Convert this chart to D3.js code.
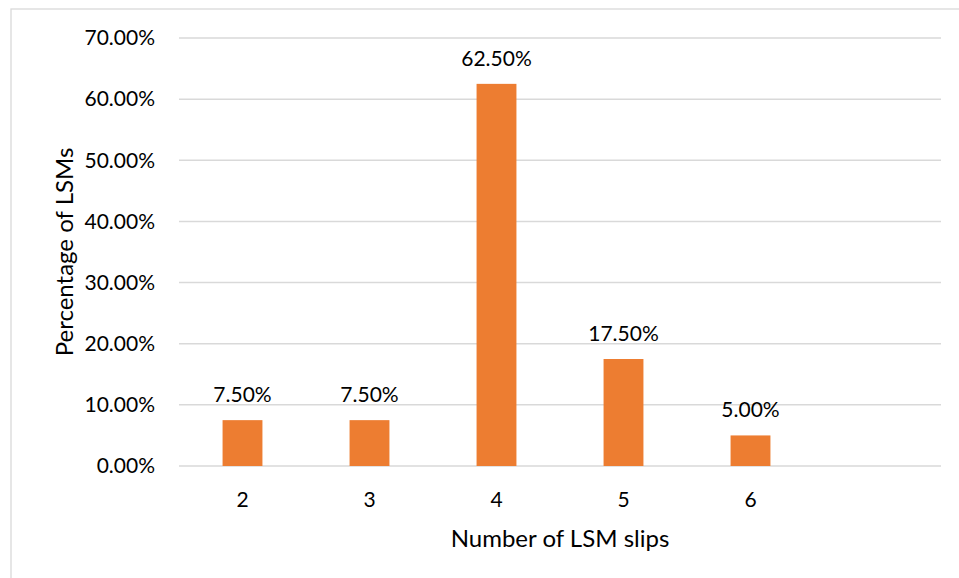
<!DOCTYPE html>
<html>
<head>
<meta charset="utf-8">
<script src="https://cdn.jsdelivr.net/npm/d3@7"></script>
<style>
  html, body { margin: 0; padding: 0; background: #fff; }
  svg { display: block; }
  text { font-family: Lato, "Open Sans", sans-serif; fill: #000; }
</style>
</head>
<body>
<svg id="chart" width="959" height="578"></svg>
<script>
// Share of LSMs by number of slips
const categories = ["2", "3", "4", "5", "6", ""];
const values = [0.075, 0.075, 0.625, 0.175, 0.05, null];
const yTicks = [0, 0.1, 0.2, 0.3, 0.4, 0.5, 0.6, 0.7];
const xTitle = "Number of LSM slips";
const yTitle = "Percentage of LSMs";

const svg = d3.select("#chart");
const W = 959, H = 578;
const m = { left: 179, right: 18, top: 38, bottom: 112 };
const tickFont = 21, titleFont = 24;

// chart frame
svg.append("rect")
  .attr("x", 11).attr("y", 9)
  .attr("width", W + 10).attr("height", H + 10)
  .attr("fill", "none").attr("stroke", "#d9d9d9").attr("stroke-width", 1.3);

const x = d3.scaleBand().domain(categories).range([m.left, W - m.right]).paddingInner(0.686).paddingOuter(0.343);
const y = d3.scaleLinear().domain([0, 0.7]).range([H - m.bottom, m.top]);

const fmt = d3.format(".2%");

// gridlines
svg.append("g").selectAll("line").data(yTicks).join("line")
  .attr("x1", m.left).attr("x2", W - m.right)
  .attr("y1", d => y(d)).attr("y2", d => y(d))
  .attr("stroke", "#d9d9d9").attr("stroke-width", 1.5);

// y axis labels
const yAxis = d3.axisLeft(y).tickValues(yTicks).tickFormat(fmt).tickSize(0).tickPadding(24);
svg.append("g").attr("transform", `translate(${m.left},0)`).call(yAxis)
  .call(g => g.select(".domain").remove())
  .call(g => g.selectAll("text").attr("font-size", tickFont).attr("fill", "#000").attr("font-family", "Lato, sans-serif"));

// x axis labels
const xAxis = d3.axisBottom(x).tickSize(0).tickPadding(26);
svg.append("g").attr("transform", `translate(0,${H - m.bottom})`).call(xAxis)
  .call(g => g.select(".domain").remove())
  .call(g => g.selectAll("text").attr("font-size", tickFont).attr("fill", "#000").attr("font-family", "Lato, sans-serif"));

// bars
const data = categories.map((c, i) => ({ c, v: values[i] })).filter(d => d.v != null);
svg.append("g").selectAll("rect").data(data).join("rect")
  .attr("x", d => x(d.c)).attr("width", x.bandwidth())
  .attr("y", d => y(d.v)).attr("height", d => y(0) - y(d.v))
  .attr("fill", "#ED7D31");

// value labels
svg.append("g").selectAll("text").data(data).join("text")
  .attr("x", d => x(d.c) + x.bandwidth() / 2)
  .attr("y", d => y(d.v) - 18)
  .attr("text-anchor", "middle").attr("font-size", tickFont)
  .text(d => fmt(d.v));

// axis titles
svg.append("text")
  .attr("x", (m.left + W - m.right) / 2).attr("y", 547)
  .attr("text-anchor", "middle").attr("font-size", titleFont)
  .text(xTitle);
svg.append("text")
  .attr("transform", `translate(73,${(m.top + H - m.bottom) / 2}) rotate(-90)`)
  .attr("text-anchor", "middle").attr("font-size", titleFont)
  .text(yTitle);
</script>
</body>
</html>
